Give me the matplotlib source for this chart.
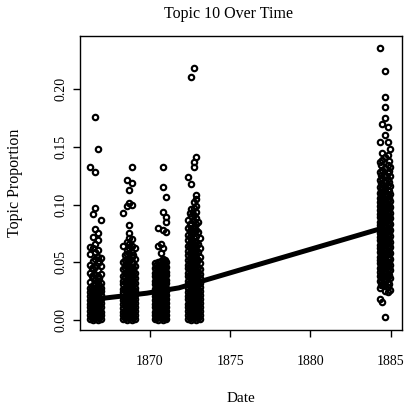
import matplotlib
matplotlib.use("Agg")
import matplotlib.pyplot as plt

plt.rcParams["font.family"] = ["Liberation Serif", "DejaVu Serif"]

# issue dates per volume and topic proportions of the articles in each issue
v1_dates = [1866.29, 1866.37, 1866.45, 1866.60, 1866.76, 1866.84, 1866.92]
v1_props = [
    [0.001, 0.004, 0.008, 0.011, 0.014, 0.017, 0.021, 0.024, 0.028, 0.033, 0.041, 0.048, 0.057, 0.063, 0.133],
    [0.002, 0.005, 0.009, 0.012, 0.015, 0.019, 0.022, 0.025, 0.029, 0.038, 0.045],
    [0.000, 0.003, 0.006, 0.009, 0.013, 0.016, 0.019, 0.022, 0.026, 0.030, 0.036, 0.044, 0.051, 0.062, 0.072, 0.092],
    [0.002, 0.005, 0.008, 0.011, 0.014, 0.018, 0.021, 0.024, 0.027, 0.031, 0.035, 0.039, 0.046, 0.053, 0.059, 0.066, 0.079, 0.097, 0.128, 0.176],
    [0.000, 0.003, 0.006, 0.010, 0.013, 0.016, 0.019, 0.023, 0.026, 0.029, 0.034, 0.038, 0.043, 0.049, 0.055, 0.061, 0.069, 0.075, 0.148],
    [0.002, 0.005, 0.009, 0.012, 0.016, 0.020, 0.024, 0.027, 0.030, 0.036, 0.051],
    [0.001, 0.004, 0.007, 0.011, 0.015, 0.018, 0.022, 0.025, 0.028, 0.032, 0.040, 0.047, 0.054, 0.087],
]

v2_dates = [1868.35, 1868.44, 1868.54, 1868.72, 1868.88, 1868.97, 1869.06]
v2_props = [
    [0.001, 0.004, 0.007, 0.010, 0.014, 0.017, 0.020, 0.024, 0.027, 0.031, 0.034, 0.038, 0.044, 0.050, 0.064, 0.093],
    [0.002, 0.005, 0.008, 0.012, 0.015, 0.018, 0.021, 0.026, 0.028, 0.033, 0.037, 0.041, 0.045, 0.048, 0.052, 0.056],
    [0.000, 0.003, 0.006, 0.009, 0.012, 0.016, 0.019, 0.022, 0.025, 0.029, 0.032, 0.035, 0.039, 0.042, 0.046, 0.049, 0.053, 0.057, 0.061, 0.068, 0.099, 0.121],
    [0.002, 0.005, 0.008, 0.011, 0.014, 0.018, 0.021, 0.024, 0.027, 0.030, 0.034, 0.037, 0.040, 0.044, 0.047, 0.051, 0.054, 0.058, 0.062, 0.066, 0.071, 0.075, 0.082, 0.101, 0.113],
    [0.000, 0.003, 0.006, 0.010, 0.013, 0.016, 0.019, 0.023, 0.026, 0.029, 0.033, 0.036, 0.039, 0.043, 0.046, 0.050, 0.055, 0.059, 0.064, 0.070, 0.100, 0.119, 0.133],
    [0.002, 0.005, 0.009, 0.012, 0.014, 0.017, 0.021, 0.024, 0.027, 0.031, 0.035, 0.038, 0.042, 0.045, 0.049, 0.056],
    [0.001, 0.004, 0.008, 0.011, 0.015, 0.018, 0.022, 0.025, 0.028, 0.032, 0.036, 0.041, 0.047, 0.053, 0.062],
]

v3_dates = [1870.31, 1870.40, 1870.50, 1870.69, 1870.84, 1870.94, 1871.03]
v3_props = [
    [0.001, 0.004, 0.007, 0.011, 0.014, 0.017, 0.021, 0.024, 0.027, 0.031, 0.034, 0.038, 0.041, 0.045, 0.049],
    [0.002, 0.005, 0.009, 0.012, 0.015, 0.019, 0.022, 0.026, 0.029, 0.033, 0.036, 0.040, 0.044, 0.048],
    [0.000, 0.003, 0.006, 0.009, 0.012, 0.016, 0.019, 0.022, 0.025, 0.029, 0.032, 0.036, 0.039, 0.043, 0.047, 0.050, 0.064, 0.080],
    [0.002, 0.005, 0.008, 0.011, 0.014, 0.018, 0.021, 0.024, 0.027, 0.030, 0.034, 0.037, 0.040, 0.044, 0.048, 0.051, 0.058, 0.066],
    [0.000, 0.003, 0.006, 0.010, 0.013, 0.016, 0.019, 0.023, 0.026, 0.029, 0.033, 0.036, 0.039, 0.043, 0.046, 0.050, 0.053, 0.062, 0.078, 0.094, 0.115, 0.133],
    [0.002, 0.005, 0.009, 0.012, 0.014, 0.017, 0.021, 0.024, 0.027, 0.031, 0.034, 0.038, 0.041, 0.045, 0.048, 0.052],
    [0.001, 0.004, 0.008, 0.011, 0.015, 0.018, 0.022, 0.025, 0.028, 0.032, 0.035, 0.039, 0.042, 0.046, 0.050, 0.076, 0.085, 0.089, 0.107],
]

v4_dates = [1872.40, 1872.48, 1872.56, 1872.74, 1872.90, 1873.00, 1873.09]
v4_props = [
    [0.001, 0.004, 0.008, 0.011, 0.014, 0.018, 0.021, 0.024, 0.028, 0.031, 0.034, 0.038, 0.041, 0.045, 0.048, 0.052, 0.056, 0.060, 0.064, 0.069, 0.074, 0.080, 0.087, 0.124],
    [0.002, 0.005, 0.009, 0.012, 0.016, 0.019, 0.023, 0.026, 0.030, 0.033, 0.037, 0.040, 0.044, 0.047, 0.050, 0.054, 0.058, 0.063, 0.067, 0.072, 0.077, 0.082, 0.093],
    [0.000, 0.003, 0.006, 0.009, 0.013, 0.016, 0.019, 0.023, 0.026, 0.029, 0.033, 0.036, 0.039, 0.043, 0.046, 0.050, 0.053, 0.057, 0.061, 0.065, 0.070, 0.075, 0.079, 0.084, 0.090, 0.096, 0.118, 0.211],
    [0.002, 0.005, 0.008, 0.011, 0.015, 0.018, 0.021, 0.025, 0.028, 0.031, 0.035, 0.038, 0.041, 0.045, 0.048, 0.051, 0.055, 0.058, 0.062, 0.066, 0.071, 0.076, 0.081, 0.086, 0.091, 0.097, 0.102, 0.133, 0.137, 0.218],
    [0.000, 0.003, 0.006, 0.010, 0.013, 0.016, 0.020, 0.023, 0.026, 0.030, 0.033, 0.036, 0.040, 0.043, 0.047, 0.050, 0.054, 0.057, 0.061, 0.064, 0.068, 0.073, 0.078, 0.083, 0.088, 0.094, 0.099, 0.105, 0.108, 0.141],
    [0.002, 0.005, 0.009, 0.012, 0.014, 0.017, 0.021, 0.024, 0.027, 0.031, 0.034, 0.038, 0.042, 0.046, 0.052, 0.059, 0.066, 0.076, 0.085],
    [0.001, 0.004, 0.008, 0.011, 0.015, 0.018, 0.022, 0.025, 0.029, 0.032, 0.036, 0.040, 0.044, 0.049, 0.055, 0.062, 0.071],
]

v5_dates = [1884.34, 1884.41, 1884.49, 1884.65, 1884.81, 1884.89, 1884.96]
v5_props = [
    [0.018, 0.028, 0.034, 0.038, 0.042, 0.045, 0.049, 0.052, 0.055, 0.059, 0.062, 0.065, 0.069, 0.072, 0.075, 0.079, 0.082, 0.085, 0.089, 0.092, 0.095, 0.099, 0.102, 0.106, 0.110, 0.115, 0.121, 0.128, 0.137, 0.154, 0.236],
    [0.030, 0.035, 0.039, 0.044, 0.048, 0.051, 0.054, 0.058, 0.061, 0.064, 0.068, 0.071, 0.074, 0.078, 0.081, 0.084, 0.088, 0.091, 0.094, 0.098, 0.101, 0.105, 0.109, 0.113, 0.119, 0.126, 0.134],
    [0.016, 0.031, 0.036, 0.040, 0.043, 0.047, 0.050, 0.053, 0.057, 0.060, 0.063, 0.067, 0.070, 0.073, 0.077, 0.080, 0.083, 0.087, 0.090, 0.093, 0.097, 0.100, 0.103, 0.107, 0.111, 0.114, 0.118, 0.123, 0.130, 0.139, 0.145, 0.170],
    [0.003, 0.025, 0.030, 0.034, 0.038, 0.041, 0.045, 0.048, 0.051, 0.055, 0.058, 0.061, 0.065, 0.068, 0.071, 0.075, 0.078, 0.081, 0.085, 0.088, 0.091, 0.095, 0.098, 0.101, 0.105, 0.108, 0.112, 0.116, 0.120, 0.125, 0.132, 0.141, 0.160, 0.175, 0.185, 0.193, 0.216],
    [0.024, 0.029, 0.033, 0.037, 0.040, 0.044, 0.047, 0.050, 0.054, 0.057, 0.060, 0.064, 0.067, 0.070, 0.074, 0.077, 0.080, 0.084, 0.087, 0.090, 0.094, 0.097, 0.100, 0.104, 0.108, 0.113, 0.117, 0.122, 0.127, 0.134, 0.143, 0.154, 0.167],
    [0.031, 0.039, 0.045, 0.050, 0.055, 0.060, 0.065, 0.070, 0.075, 0.080, 0.085, 0.090, 0.095, 0.100, 0.106, 0.112, 0.120, 0.129, 0.138],
    [0.026, 0.036, 0.043, 0.048, 0.053, 0.058, 0.063, 0.068, 0.073, 0.078, 0.083, 0.088, 0.093, 0.098, 0.103, 0.109, 0.116, 0.125, 0.133, 0.148],
]

# smoothed trend
trend_x = [1866.3, 1867.2, 1869.8, 1871.8, 1873.2, 1884.3]
trend_y = [0.0175, 0.0190, 0.0232, 0.0278, 0.0335, 0.0788]

x_ticks = [1870, 1875, 1880, 1885]
y_ticks = [0.00, 0.05, 0.10, 0.15, 0.20]

fig = plt.figure(figsize=(4.05, 4.13), dpi=100)
ax = fig.add_axes([80 / 405, 83 / 413, 321.7 / 405, 294 / 413])

volumes = [(v1_dates, v1_props), (v2_dates, v2_props), (v3_dates, v3_props),
           (v4_dates, v4_props), (v5_dates, v5_props)]
for dates, props in volumes:
    for d, vals in zip(dates, props):
        ax.plot([d] * len(vals), vals, linestyle="none", marker="o", ms=3.9,
                mfc="none", mec="black", mew=1.55)

ax.plot(trend_x, trend_y, color="black", lw=3.6, solid_capstyle="round")

ax.set_xlim(1865.64, 1885.69)
ax.set_ylim(-0.0087, 0.2461)
ax.set_xticks(x_ticks)
ax.set_xticklabels([str(t) for t in x_ticks])
ax.set_yticks(y_ticks)
ax.set_yticklabels(["%.2f" % t for t in y_ticks], rotation=90, va="center")
ax.tick_params(direction="out", length=5, width=1.0, labelsize=10)
ax.tick_params(axis="x", pad=13)
ax.tick_params(axis="y", pad=4)
for s in ax.spines.values():
    s.set_linewidth(1.0)

ax.set_xlabel("Date", fontsize=11)
ax.set_ylabel("Topic Proportion", fontsize=11.5)
ax.xaxis.set_label_coords(0.5, -0.212)
ax.yaxis.set_label_coords(-0.178, 0.5)
fig.text(229 / 405, 1 - 14 / 413, "Topic 10 Over Time", ha="center", va="center", fontsize=11.5)

fig.savefig("out.png", dpi=100)
